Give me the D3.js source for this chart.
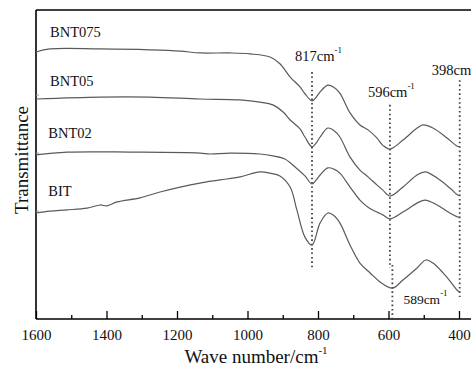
<!DOCTYPE html>
<html>
<head>
<meta charset="utf-8">
<script src="https://cdn.jsdelivr.net/npm/d3@7"></script>
<style>
  html, body { margin: 0; padding: 0; background: #fff; }
  svg { display: block; }
  svg text { font-family: "Liberation Serif", "DejaVu Serif", "Times New Roman", Times, serif !important; fill: #111; }
</style>
</head>
<body>
<svg id="chart" width="471" height="367" font-family="Liberation Serif, DejaVu Serif, serif"></svg>
<script>
// ---- data (wavenumber cm^-1, transmittance a.u., curves offset as in figure) ----
const seriesNames = ["BNT075", "BNT05", "BNT02", "BIT"];

const bnt075 = [
  [1600,86.4],[1560,87.4],[1418,87.4],[1277,87.1],[1191,86.7],[1135,86.1],[1050,86.1],
  [993,85.8],[936,84.8],[908,82.6],[879,78.3],[851,75.1],[837,72.9],[817,70.6],[805,71.8],[794,73.5],
  [772,75.7],[755,75.0],[738,73.1],[709,66.7],[681,62.8],[658,61.2],[633,58.6],[616,56.2],
  [596,55.0],[559,57.9],[519,61.8],[502,62.8],[474,61.8],[434,58.6],[406,56.0],[398,55.7]
];
const bnt05 = [
  [1600,71.2],[1418,71.8],[1277,71.8],[1135,71.2],[1021,70.9],[965,70.2],[928,69.3],
  [899,67.0],[879,64.4],[851,61.5],[837,58.9],[817,55.7],[805,57.0],[794,58.9],[772,61.8],[755,61.0],
  [738,58.9],[709,52.4],[681,48.2],[658,46.0],[633,43.4],[616,41.7],[596,39.8],[559,42.7],
  [519,46.6],[496,47.6],[462,45.6],[426,42.4],[403,40.1],[398,40.1]
];
const bnt02 = [
  [1600,53.1],[1512,54.0],[1325,54.0],[1135,53.7],[1106,53.4],[1050,53.7],[965,53.4],
  [928,52.8],[894,51.8],[865,49.2],[837,46.3],[817,43.7],[805,45.0],[794,46.6],[772,48.9],[755,48.5],
  [738,47.2],[709,42.7],[681,38.5],[658,36.2],[633,34.6],[616,33.7],[596,32.4],[559,34.6],
  [519,37.5],[496,38.5],[462,36.9],[426,34.3],[403,33.0],[398,33.0]
];
const bit = [
  [1600,34.3],[1560,34.9],[1512,35.3],[1455,35.9],[1418,36.9],[1399,36.6],[1370,37.9],
  [1305,39.2],[1248,41.1],[1191,42.7],[1135,44.0],[1078,45.0],[1021,46.0],[965,47.6],
  [936,47.2],[908,46.3],[879,42.7],[860,35.3],[837,26.5],[817,23.9],[794,31.1],[772,34.3],
  [755,33.5],[738,31.1],[709,23.9],[681,18.1],[652,14.9],[624,12.0],[589,10.0],[559,12.6],
  [519,16.5],[494,19.1],[474,18.1],[445,14.9],[417,11.0],[406,9.4],[398,8.7]
];
const seriesValues = [bnt075, bnt05, bnt02, bit];
// series label anchor: [wavenumber, transmittance]
const seriesLabelPos = [[1560,91.3],[1560,75.5],[1565,58.6],[1565,39.8]];

// peak markers: wavenumber, top, bottom (a.u.)
const peakLines = [[817,79.9,16.5],[596,69.3,16.5],[398,77.3,7.1],[589,17.5,0.3]];
const peakLabels = ["817", "596", "398", "589"];

const xTicksMajor = [1600,1400,1200,1000,800,600,400];
const xTicksMinor = [1500,1300,1100,900,700,500];
const yTicks = [72.5, 53.7, 34.9];

// ---- layout ----
const W = 471, H = 367;
const mLeft = 36, mTop = 10, mBottom = 319;
const FONT = "'Liberation Serif', 'DejaVu Serif', serif";
const svg = d3.select("#chart");
const x = d3.scaleLinear().domain([1600, 400]).range([mLeft, 459]);
const y = d3.scaleLinear().domain([0, 100]).range([mBottom, mTop]);

// frame: left + top
svg.append("line").attr("x1", mLeft).attr("x2", mLeft).attr("y1", mTop).attr("y2", mBottom)
  .attr("stroke", "#000").attr("stroke-width", 1.6);
svg.append("line").attr("x1", mLeft).attr("x2", W + 5).attr("y1", mTop).attr("y2", mTop)
  .attr("stroke", "#000").attr("stroke-width", 1.6);

// x axis
const xAxis = d3.axisBottom(x).tickValues(xTicksMajor).tickSize(-8).tickPadding(10)
  .tickFormat(d3.format("d"));
const gx = svg.append("g").attr("transform", `translate(0,${mBottom})`).call(xAxis)
  .attr("font-family", FONT);
gx.select(".domain").remove();
gx.selectAll(".tick line").attr("stroke", "#000").attr("stroke-width", 1.3);
gx.selectAll(".tick text").attr("font-size", 15).attr("fill", "#111")
  .style("font-family", FONT);
const gxm = svg.append("g").attr("transform", `translate(0,${mBottom})`)
  .call(d3.axisBottom(x).tickValues(xTicksMinor).tickSize(-4).tickFormat(""));
gxm.select(".domain").remove();
gxm.selectAll(".tick line").attr("stroke", "#000").attr("stroke-width", 1.3);
svg.append("line").attr("x1", mLeft).attr("x2", W + 5).attr("y1", mBottom).attr("y2", mBottom)
  .attr("stroke", "#000").attr("stroke-width", 1.6);

// faint y ticks
svg.append("g").selectAll("line").data(yTicks).join("line")
  .attr("x1", mLeft).attr("x2", mLeft + 3)
  .attr("y1", d => y(d)).attr("y2", d => y(d))
  .attr("stroke", "#999").attr("stroke-width", 1);

// axis titles
const xt = svg.append("text").attr("x", 256).attr("y", 363).attr("text-anchor", "middle")
  .attr("font-size", 19).style("font-family", FONT);
xt.append("tspan").text("Wave number/cm");
xt.append("tspan").attr("dy", -9).attr("font-size", 11).text("-1");

svg.append("text").attr("transform", "translate(28,160) rotate(-90)")
  .attr("text-anchor", "middle").attr("font-size", 19).style("font-family", FONT)
  .text("Transmittance");

// peak dotted lines
svg.append("g").selectAll("line").data(peakLines).join("line")
  .attr("x1", d => x(d[0])).attr("x2", d => x(d[0]))
  .attr("y1", d => y(d[1])).attr("y2", d => y(d[2]))
  .attr("stroke", "#444").attr("stroke-width", 1.8)
  .attr("stroke-dasharray", "1.6,2.8");

// curves
const line = d3.line().x(d => x(d[0])).y(d => y(d[1])).curve(d3.curveCatmullRom.alpha(0.5));
svg.append("g").selectAll("path").data(seriesValues).join("path")
  .attr("d", line).attr("fill", "none").attr("stroke", "#5a5a5a").attr("stroke-width", 1.2);

// series labels
svg.append("g").selectAll("text").data(seriesNames).join("text")
  .attr("x", (d, i) => x(seriesLabelPos[i][0]))
  .attr("y", (d, i) => y(seriesLabelPos[i][1]))
  .attr("font-size", 14.5).style("font-family", FONT).text(d => d);

// peak labels
const lblPos = [
  {dx: -17, yv: 83.5, fs: 14.5},
  {dx: -22, yv: 71.8, fs: 14.5},
  {dx: -28, yv: 79.0, fs: 14.5},
  {dx: 11, yv: 4.9, fs: 13.5}
];
peakLabels.forEach((t, i) => {
  const p = lblPos[i];
  const tx = svg.append("text").attr("x", x(+t) + p.dx).attr("y", y(p.yv))
    .attr("font-size", p.fs).style("font-family", FONT);
  tx.append("tspan").text(t + "cm");
  tx.append("tspan").attr("dy", -8).attr("font-size", 9).text("-1");
});
</script>
</body>
</html>
